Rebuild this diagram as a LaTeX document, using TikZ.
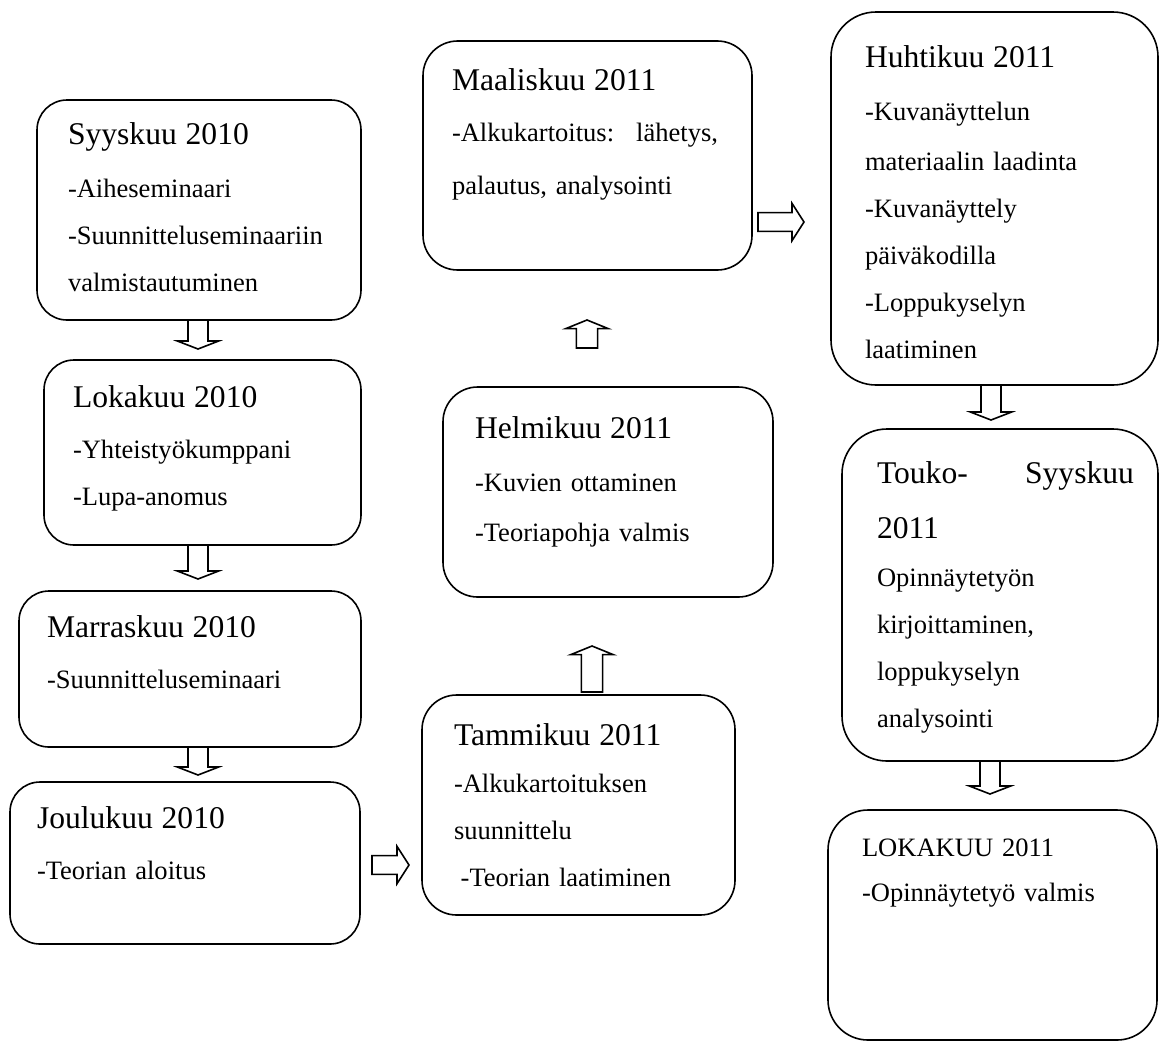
\documentclass[tikz,border=0pt]{standalone}
\usepackage{fontspec}
\setmainfont{Liberation Serif}
\usetikzlibrary{calc}
\newcommand\ttl{\fontsize{23.7pt}{35.25pt}\selectfont}
\newcommand\bdy{\fontsize{19.9pt}{35.25pt}\selectfont}
\tikzset{
 box/.style={draw=black, line width=1.2pt, inner sep=0pt, outer sep=0pt, anchor=north west},
 txt/.style={anchor=base west, inner sep=0pt, outer sep=0pt, align=left, text width=#1, font=\bdy},
 blk/.style={draw=black, fill=white, line width=1.2pt, line join=miter},
}
\newcommand\arrdown[2]{\draw[blk] let \p1=(#1), \p2=(#2) in (\x1-7.5pt,\y1) -- (\x1-7.5pt,\y2+6pt) -- (\x1-15.5pt,\y2+6pt) -- (\x1,\y2) -- (\x1+15.5pt,\y2+6pt) -- (\x1+7.5pt,\y2+6pt) -- (\x1+7.5pt,\y1) -- cycle;}
\newcommand\arrup[2]{\draw[blk] let \p1=(#1), \p2=(#2) in (\x1-8pt,\y1) -- (\x1-8pt,\y2-6.5pt) -- (\x1-16pt,\y2-6.5pt) -- (\x1,\y2) -- (\x1+16pt,\y2-6.5pt) -- (\x1+8pt,\y2-6.5pt) -- (\x1+8pt,\y1) -- cycle;}
\newcommand\arrright[2]{\draw[blk] let \p1=(#1), \p2=(#2) in (\x1,\y1+7pt) -- (\x2-9pt,\y1+7pt) -- (\x2-9pt,\y1+14pt) -- (\x2,\y1) -- (\x2-9pt,\y1-14pt) -- (\x2-9pt,\y1-7pt) -- (\x1,\y1-7pt) -- cycle;}
\begin{document}
\begin{tikzpicture}[x=0.75pt,y=-0.75pt]
\fill[white] (0,0) rectangle (1159,1043);
\useasboundingbox (0,0) rectangle (1159,1043);

% boxes
\node[box, minimum width=243pt, minimum height=165pt, rounded corners=22.5pt] (syys) at (37,100) {};
\node[box, minimum width=237.75pt, minimum height=138.75pt, rounded corners=22.5pt] (loka) at (44,360) {};
\node[box, minimum width=256.5pt, minimum height=117pt, rounded corners=22.5pt] (marr) at (19,591) {};
\node[box, minimum width=262.5pt, minimum height=121.5pt, rounded corners=22.5pt] (joulu) at (10,782) {};
\node[box, minimum width=234.75pt, minimum height=165pt, rounded corners=26pt] (tammi) at (422,695) {};
\node[box, minimum width=247.5pt, minimum height=157.5pt, rounded corners=26pt] (helmi) at (443,387) {};
\node[box, minimum width=246.75pt, minimum height=171.75pt, rounded corners=26pt] (maalis) at (423,41) {};
\node[box, minimum width=245.25pt, minimum height=279.75pt, rounded corners=33.75pt] (huhti) at (831,12) {};
\node[box, minimum width=237pt, minimum height=249pt, rounded corners=33.75pt] (touko) at (842,429) {};
\node[box, minimum width=246.75pt, minimum height=172.5pt, rounded corners=30pt] (lokak) at (828,810) {};

% texts
\node[txt=225pt] (tsyys) at (68,144) {{\ttl Syyskuu 2010}\\[5pt]-Aiheseminaari\\-Suunnitteluseminaariin\\valmistautuminen};
\node[txt=220pt] (tloka) at (73,407) {{\ttl Lokakuu 2010}\\[3pt]-Yhteistyökumppani\\-Lupa-anomus};
\node[txt=235pt] (tmarr) at (47,637) {{\ttl Marraskuu 2010}\\[3pt]-Suunnitteluseminaari};
\node[txt=235pt] (tjoulu) at (37,828) {{\ttl Joulukuu 2010}\\[3pt]-Teorian aloitus};
\node[txt=210pt] (ttammi) at (454,745) {{\ttl Tammikuu 2011}\\[0pt]-Alkukartoituksen\\suunnittelu\\\hspace*{5pt}-Teorian laatiminen};
\node[txt=220pt] (thelmi) at (475,438) {{\ttl Helmikuu 2011}\\[5pt]-Kuvien ottaminen\\[2pt]-Teoriapohja valmis};
\node[txt=199.5pt] (tmaalis) at (452,90) {{\ttl Maaliskuu 2011}\\[3pt]-Alkukartoitus:\hfill lähetys,\\[5pt]palautus, analysointi};
\node[txt=215pt] (thuhti) at (865,67) {{\ttl Huhtikuu 2011}\\[5pt]-Kuvanäyttelun\\[2pt]materiaalin laadinta\\-Kuvanäyttely\\päiväkodilla\\-Loppukyselyn\\laatiminen};
\node[txt=192.75pt] (ttouko) at (877,483) {{\ttl Touko-\hfill Syyskuu}\\[6pt]{\ttl 2011}\\[1pt]Opinnäytetyön\\kirjoittaminen,\\loppukyselyn\\analysointi};
\node[txt=215pt] (tlokak) at (862,856) {LOKAKUU 2011\\[-1pt]-Opinnäytetyö valmis};

% arrows
\coordinate (a1t) at (198,349);
\coordinate (a2t) at (198,579);
\coordinate (a3t) at (198,775);
\coordinate (a4s) at (372,865);
\coordinate (a4t) at (409,865);
\coordinate (a5s) at (592,692);
\coordinate (a5t) at (592,646);
\coordinate (a6s) at (587,348);
\coordinate (a6t) at (587,320);
\coordinate (a7s) at (758,222);
\coordinate (a7t) at (804,222);
\coordinate (a8t) at (991,420);
\coordinate (a9t) at (990,794);

\arrdown{syys.south -| a1t}{a1t}
\arrdown{loka.south -| a2t}{a2t}
\arrdown{marr.south -| a3t}{a3t}
\arrright{a4s}{a4t}
\arrup{a5s}{a5t}
\arrup{a6s}{a6t}
\arrright{a7s}{a7t}
\arrdown{huhti.south -| a8t}{a8t}
\arrdown{touko.south -| a9t}{a9t}
\end{tikzpicture}
\end{document}
